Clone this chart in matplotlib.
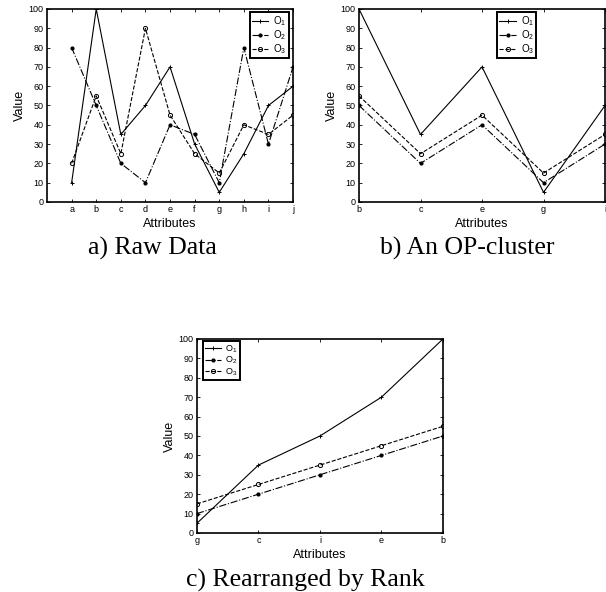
import matplotlib.pyplot as plt

# panel a: raw data
raw_attrs = ['a', 'b', 'c', 'd', 'e', 'f', 'g', 'h', 'i', 'j']
raw_o1 = [10, 100, 35, 50, 70, 30, 5, 25, 50, 60]
raw_o2 = [80, 50, 20, 10, 40, 35, 10, 80, 30, 70]
raw_o3 = [20, 55, 25, 90, 45, 25, 15, 40, 35, 45]

# panel b: OP-cluster
clu_attrs = ['b', 'c', 'e', 'g', 'i']
clu_o1 = [100, 35, 70, 5, 50]
clu_o2 = [50, 20, 40, 10, 30]
clu_o3 = [55, 25, 45, 15, 35]

# panel c: rearranged by rank
rank_attrs = ['g', 'c', 'i', 'e', 'b']
rank_o1 = [5, 35, 50, 70, 100]
rank_o2 = [10, 20, 30, 40, 50]
rank_o3 = [15, 25, 35, 45, 55]

labels = [r'O$_1$', r'O$_2$', r'O$_3$']

plt.rcParams['font.family'] = ['Liberation Sans', 'DejaVu Sans']
plt.rcParams['mathtext.fontset'] = 'custom'
plt.rcParams['mathtext.rm'] = 'Liberation Sans'
plt.rcParams['mathtext.it'] = 'Liberation Sans'


def draw(ax, attrs, o1, o2, o3, xmin, leg_anchor, leg_size):
    xs = list(range(1, len(attrs) + 1))
    ax.plot(xs, o1, '-', color='k', lw=0.8, marker='+', ms=3, mew=0.7, label=labels[0])
    ax.plot(xs, o2, '-.', color='k', lw=0.8, marker='.', ms=4, label=labels[1])
    ax.plot(xs, o3, '--', color='k', lw=0.8, marker='o', ms=3, mfc='none', mew=0.7, label=labels[2])
    ax.set_xlim(xmin, xs[-1])
    ax.set_ylim(0, 100)
    ax.set_xticks(xs)
    ax.set_xticklabels(attrs)
    ax.set_yticks(range(0, 101, 10))
    ax.tick_params(direction='in', top=True, right=True, labelsize=6.5, length=2.5, width=0.6, pad=2.5)
    for s in ax.spines.values():
        s.set_linewidth(1.2)
    ax.set_xlabel('Attributes', fontsize=9, labelpad=2.5)
    ax.set_ylabel('Value', fontsize=9, labelpad=2)
    leg = ax.legend(loc='upper left', bbox_to_anchor=leg_anchor, fontsize=leg_size,
                    handlelength=1.7, borderpad=0.25, labelspacing=0.0, handletextpad=0.5,
                    fancybox=False, framealpha=1, edgecolor='k', borderaxespad=0)
    leg.get_frame().set_linewidth(1.4)


fig = plt.figure(figsize=(6.06, 5.92), dpi=100)

ax_a = fig.add_axes([0.0776, 0.6588, 0.406, 0.326])
draw(ax_a, raw_attrs, raw_o1, raw_o2, raw_o3, 0, (0.823, 0.985), 7)

ax_b = fig.add_axes([0.5924, 0.6588, 0.406, 0.326])
draw(ax_b, clu_attrs, clu_o1, clu_o2, clu_o3, 1, (0.561, 0.985), 7)

ax_c = fig.add_axes([0.325, 0.0997, 0.406, 0.3277])
draw(ax_c, rank_attrs, rank_o1, rank_o2, rank_o3, 1, (0.025, 0.99), 6.5)

cap = dict(family='Liberation Serif', fontsize=18.5, ha='center', va='baseline')
fig.text(152 / 606, 1 - 255 / 592, 'a) Raw Data', **cap)
fig.text(467 / 606, 1 - 255 / 592, 'b) An OP-cluster', **cap)
fig.text(305 / 606, 1 - 587 / 592, 'c) Rearranged by Rank', **cap)

fig.savefig('out.png', dpi=100)
